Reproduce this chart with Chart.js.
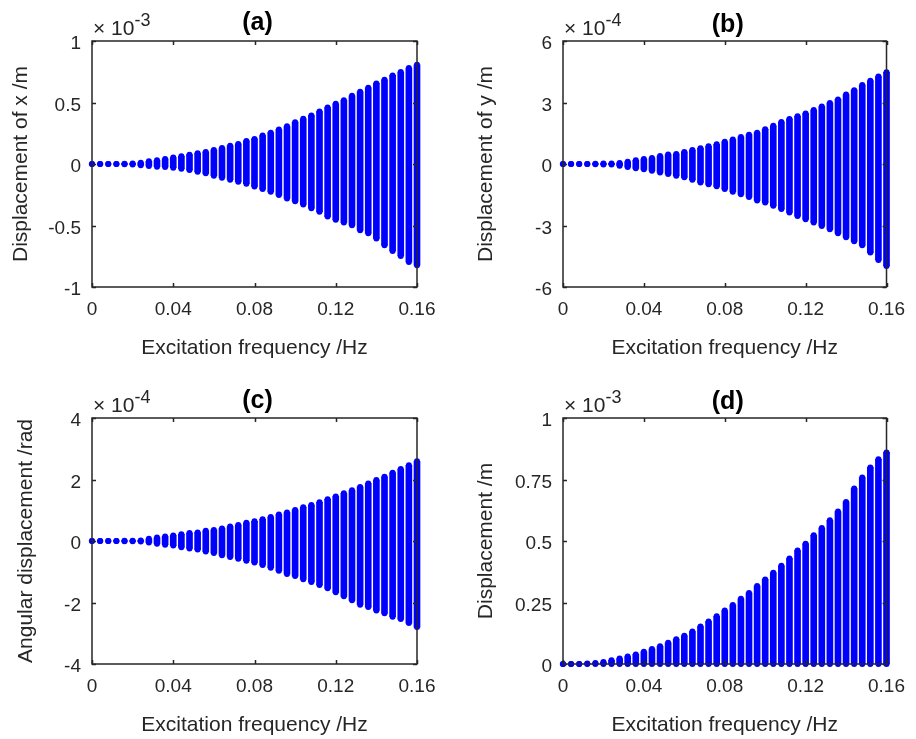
<!DOCTYPE html>
<html>
<head>
<meta charset="utf-8">
<script src="https://cdn.jsdelivr.net/npm/chart.js@4/dist/chart.umd.min.js"></script>
<style>
  html, body { margin: 0; padding: 0; background: #ffffff; }
  #wrap { position: relative; width: 916px; height: 739px; overflow: hidden; }
  .cell { position: absolute; }
  canvas { display: block; }
</style>
</head>
<body>
<div id="wrap">
  <div class="cell" style="left:0;top:0"><canvas id="pa" width="458" height="370"></canvas></div>
  <div class="cell" style="left:458px;top:0"><canvas id="pb" width="458" height="370"></canvas></div>
  <div class="cell" style="left:0;top:370px"><canvas id="pc" width="458" height="369"></canvas></div>
  <div class="cell" style="left:458px;top:370px"><canvas id="pd" width="458" height="369"></canvas></div>
</div>
<script>
// Excitation frequencies of the sweep (Hz)
const freq = [0, 0.004, 0.008, 0.012, 0.016, 0.02, 0.024, 0.028, 0.032, 0.036,
  0.04, 0.044, 0.048, 0.052, 0.056, 0.06, 0.064, 0.068, 0.072, 0.076,
  0.08, 0.084, 0.088, 0.092, 0.096, 0.1, 0.104, 0.108, 0.112, 0.116,
  0.12, 0.124, 0.128, 0.132, 0.136, 0.14, 0.144, 0.148, 0.152, 0.156, 0.16];
const freqTicks = [0, 0.04, 0.08, 0.12, 0.16];

// (a) displacement of x, units of 1e-3 m: upper / lower extent of the response at each frequency
const xDispHigh = [0, 0, 0, 0, 0.003, 0.005, 0.011, 0.022, 0.030, 0.041,
  0.052, 0.063, 0.076, 0.088, 0.098, 0.114, 0.130, 0.149, 0.163, 0.188,
  0.204, 0.231, 0.255, 0.280, 0.307, 0.340, 0.367, 0.394, 0.427, 0.459,
  0.489, 0.519, 0.554, 0.587, 0.620, 0.655, 0.685, 0.720, 0.747, 0.780, 0.807];
const xDispLow = [0, 0, 0, 0, -0.003, -0.005, -0.011, -0.016, -0.022, -0.024,
  -0.030, -0.038, -0.049, -0.063, -0.076, -0.095, -0.111, -0.128, -0.144, -0.160,
  -0.182, -0.204, -0.226, -0.253, -0.280, -0.302, -0.329, -0.359, -0.389, -0.427,
  -0.454, -0.476, -0.497, -0.538, -0.562, -0.606, -0.660, -0.707, -0.747, -0.796, -0.823];
const xDispTicks = [-1, -0.5, 0, 0.5, 1];

// (b) displacement of y, units of 1e-4 m
const yDispHigh = [0, 0, 0, 0, 0.01, 0.02, 0.03, 0.05, 0.11, 0.18,
  0.24, 0.29, 0.39, 0.46, 0.49, 0.59, 0.68, 0.77, 0.86, 0.96,
  1.08, 1.19, 1.32, 1.43, 1.53, 1.70, 1.86, 2.05, 2.20, 2.33,
  2.46, 2.63, 2.80, 2.98, 3.15, 3.39, 3.60, 3.85, 4.06, 4.27, 4.47];
const yDispLow = [0, 0, 0, 0, -0.01, -0.02, -0.03, -0.08, -0.15, -0.21,
  -0.26, -0.33, -0.41, -0.49, -0.57, -0.65, -0.77, -0.90, -0.99, -1.09,
  -1.22, -1.35, -1.48, -1.61, -1.78, -1.88, -2.04, -2.20, -2.36, -2.54,
  -2.69, -2.85, -3.02, -3.18, -3.38, -3.57, -3.77, -3.96, -4.32, -4.68, -4.97];
const yDispTicks = [-6, -3, 0, 3, 6];

// (c) angular displacement, units of 1e-4 rad
const angHigh = [0, 0, 0, 0, 0.005, 0.01, 0.02, 0.07, 0.11, 0.15,
  0.18, 0.22, 0.26, 0.28, 0.33, 0.36, 0.41, 0.47, 0.52, 0.59,
  0.64, 0.71, 0.78, 0.86, 0.93, 1.01, 1.10, 1.17, 1.26, 1.36,
  1.45, 1.55, 1.65, 1.76, 1.87, 1.98, 2.09, 2.22, 2.34, 2.46, 2.59];
const angLow = [0, 0, 0, 0, -0.005, -0.01, -0.02, -0.05, -0.09, -0.12,
  -0.15, -0.20, -0.24, -0.28, -0.34, -0.39, -0.46, -0.52, -0.58, -0.64,
  -0.70, -0.78, -0.87, -0.97, -1.07, -1.14, -1.24, -1.33, -1.43, -1.54,
  -1.67, -1.80, -1.93, -2.07, -2.15, -2.26, -2.35, -2.46, -2.54, -2.67, -2.80];
const angTicks = [-4, -2, 0, 2, 4];

// (d) resultant displacement, units of 1e-3 m
const dispHigh = [0, 0, 0, 0.002, 0.004, 0.008, 0.015, 0.022, 0.030, 0.039,
  0.050, 0.061, 0.072, 0.086, 0.101, 0.115, 0.132, 0.152, 0.173, 0.194,
  0.217, 0.240, 0.265, 0.289, 0.317, 0.344, 0.371, 0.399, 0.429, 0.461,
  0.489, 0.523, 0.553, 0.584, 0.620, 0.659, 0.713, 0.758, 0.799, 0.832, 0.860];
const dispLow = [0, 0, 0, 0, 0, 0, 0, 0, 0, 0,
  0, 0, 0, 0, 0, 0, 0, 0, 0, 0,
  0, 0, 0, 0, 0, 0, 0, 0, 0, 0,
  0, 0, 0, 0, 0, 0, 0, 0, 0, 0, 0];
const dispTicks = [0, 0.25, 0.5, 0.75, 1];

const FONT = '"Liberation Sans", Arial, Helvetica, sans-serif';
const INK = '#262626';
const BLUE = '#0000ff';

// Box frame, inward tick marks on all four sides, panel letter and exponent label
const panelDecor = {
  id: 'panelDecor',
  afterDatasetsDraw(chart, args, opts) {
    const { ctx, chartArea: a, scales: { x, y } } = chart;
    const tl = 4;
    ctx.save();
    ctx.strokeStyle = INK;
    ctx.lineWidth = 1.5;
    ctx.beginPath();
    x.ticks.forEach(t => {
      const px = Math.round(x.getPixelForValue(t.value)) + 0.5;
      ctx.moveTo(px, a.bottom); ctx.lineTo(px, a.bottom - tl);
      ctx.moveTo(px, a.top); ctx.lineTo(px, a.top + tl);
    });
    y.ticks.forEach(t => {
      const py = Math.round(y.getPixelForValue(t.value)) + 0.5;
      ctx.moveTo(a.left, py); ctx.lineTo(a.left + tl, py);
      ctx.moveTo(a.right, py); ctx.lineTo(a.right - tl, py);
    });
    ctx.stroke();
    ctx.strokeRect(a.left, a.top, a.right - a.left, a.bottom - a.top);

    // panel letter
    ctx.fillStyle = '#000000';
    ctx.font = 'bold 25px ' + FONT;
    ctx.textAlign = 'center';
    ctx.textBaseline = 'middle';
    ctx.fillText(opts.letter, (a.left + a.right) / 2 + 3, opts.letterY);

    // common exponent of the y axis
    ctx.fillStyle = INK;
    ctx.textAlign = 'left';
    ctx.textBaseline = 'alphabetic';
    const base = a.top - 6;
    ctx.font = '21px ' + FONT;
    const lead = '\u00d7 10';
    ctx.fillText(lead, a.left + 1, base);
    const w = ctx.measureText(lead).width;
    ctx.font = '18px ' + FONT;
    ctx.fillText(opts.exponent, a.left + 1 + w, base - 9);
    ctx.restore();
  }
};

function fmt(v) {
  return String(Number(v.toFixed(4)));
}

function makePanel(id, p) {
  const bars = freq.map((f, i) => ({ x: f, y: [p.low[i], p.high[i]] }));
  const ends = [];
  freq.forEach((f, i) => {
    ends.push({ x: f, y: p.high[i] });
    ends.push({ x: f, y: p.low[i] });
  });
  const H = document.getElementById(id).height;
  new Chart(document.getElementById(id), {
    type: 'bar',
    data: {
      datasets: [
        {
          type: 'bar',
          data: bars,
          backgroundColor: BLUE,
          borderWidth: 0,
          barThickness: 6,
          grouped: false,
          clip: false
        },
        {
          type: 'scatter',
          data: ends,
          pointRadius: 3,
          pointBackgroundColor: BLUE,
          pointBorderWidth: 0,
          clip: false
        }
      ]
    },
    options: {
      responsive: false,
      animation: false,
      events: [],
      layout: { padding: { top: p.top, right: 458 - p.right, left: 0, bottom: 0 } },
      plugins: {
        legend: { display: false },
        tooltip: { enabled: false },
        panelDecor: { letter: p.letter, letterY: p.letterY, exponent: p.exponent }
      },
      scales: {
        x: {
          type: 'linear',
          min: 0,
          max: 0.16,
          offset: false,
          afterBuildTicks: s => { s.ticks = freqTicks.map(v => ({ value: v })); },
          afterFit: s => { s.height = H - p.bottom; },
          grid: { display: false, drawTicks: false, offset: false },
          border: { display: false },
          ticks: {
            color: INK,
            font: { family: FONT, size: 19 },
            padding: 11,
            maxRotation: 0,
            autoSkip: false,
            callback: v => fmt(v)
          },
          title: {
            display: true,
            text: 'Excitation frequency /Hz',
            color: INK,
            font: { family: FONT, size: 21, lineHeight: 1.2 },
            padding: { top: 0, bottom: p.xTitlePad }
          }
        },
        y: {
          type: 'linear',
          min: p.ticks[0],
          max: p.ticks[p.ticks.length - 1],
          afterBuildTicks: s => { s.ticks = p.ticks.map(v => ({ value: v })); },
          afterFit: s => { s.width = p.left; },
          grid: { display: false, drawTicks: false },
          border: { display: false },
          ticks: {
            color: INK,
            font: { family: FONT, size: 19 },
            padding: 11,
            labelOffset: 3,
            autoSkip: false,
            callback: v => fmt(v)
          },
          title: {
            display: true,
            text: p.yTitle,
            color: INK,
            font: { family: FONT, size: 21, lineHeight: 1.2 },
            padding: { top: p.yTitlePad, bottom: 0 }
          }
        }
      }
    },
    plugins: [panelDecor]
  });
}

makePanel('pa', {
  high: xDispHigh, low: xDispLow, ticks: xDispTicks,
  left: 92, right: 417, top: 41, bottom: 287,
  letter: '(a)', letterY: 23, exponent: '-3',
  yTitle: 'Displacement of x /m', yTitlePad: 9, xTitlePad: 9
});
makePanel('pb', {
  high: yDispHigh, low: yDispLow, ticks: yDispTicks,
  left: 105, right: 430, top: 41, bottom: 287,
  letter: '(b)', letterY: 25, exponent: '-4',
  yTitle: 'Displacement of y /m', yTitlePad: 16, xTitlePad: 9
});
makePanel('pc', {
  high: angHigh, low: angLow, ticks: angTicks,
  left: 92, right: 417, top: 48, bottom: 294,
  letter: '(c)', letterY: 31, exponent: '-4',
  yTitle: 'Angular displacement /rad', yTitlePad: 14, xTitlePad: 1
});
makePanel('pd', {
  high: dispHigh, low: dispLow, ticks: dispTicks,
  left: 105, right: 430, top: 48, bottom: 294,
  letter: '(d)', letterY: 32, exponent: '-3',
  yTitle: 'Displacement /m', yTitlePad: 16, xTitlePad: 1
});
</script>
</body>
</html>
